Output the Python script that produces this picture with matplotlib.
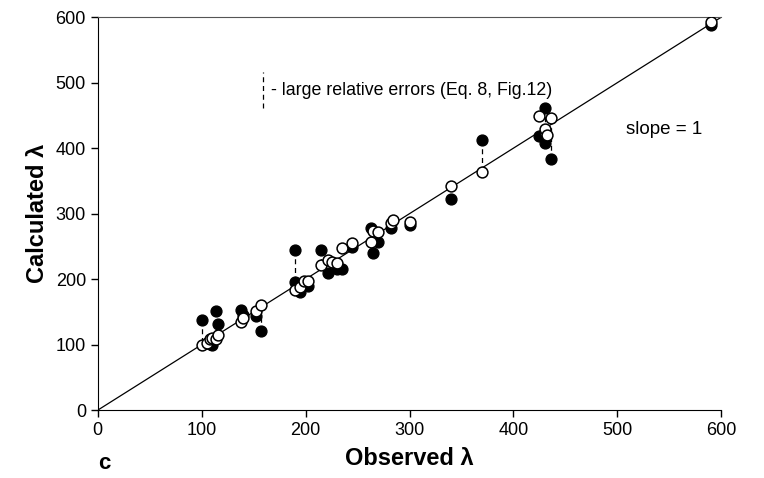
import matplotlib
matplotlib.use("Agg")
import matplotlib.pyplot as plt

plt.rcParams['font.family'] = ['Liberation Sans', 'DejaVu Sans']

# observed lambda and the two calculated values (filled / open)
observed = [100, 105, 108, 110, 114, 116, 138, 140, 152, 157,
            190, 190, 195, 198, 202, 215, 222, 225, 230, 235,
            245, 263, 265, 270, 282, 284, 300, 340, 370,
            425, 430, 430, 432, 436, 590]
calc_filled = [137, None, 101, 100, 152, 131, 153, 145, 143, 121,
               244, 196, 180, 192, 190, 244, 209, None, 215, 215,
               249, 278, 240, 257, 278, None, 282, 323, 413,
               418, 461, 408, None, 384, 588]
calc_open = [100, 102, 108, 110, 108, 115, 135, 140, 152, 160,
             183, None, 188, 197, 197, 222, 230, 226, 225, 247,
             255, 257, 274, 272, 285, 291, 288, 342, 364,
             449, 425, 430, 420, 446, 592]
# pairs with large relative errors (joined by dashed lines)
large_err = [0, 4, 5, 9, 10, 15, 28, 30, 33]

fig, ax = plt.subplots(figsize=(7.64, 4.78), dpi=100)
fig.subplots_adjust(left=0.128, right=0.944, bottom=0.142, top=0.964)

ax.plot([0, 600], [0, 600], color='black', lw=0.9, zorder=1)

for i in large_err:
    ax.plot([observed[i], observed[i]], [calc_filled[i], calc_open[i]],
            color='black', lw=0.9, ls=(0, (4, 3)), zorder=2)

fx = [o for o, v in zip(observed, calc_filled) if v is not None]
fy = [v for v in calc_filled if v is not None]
ox = [o for o, v in zip(observed, calc_open) if v is not None]
oy = [v for v in calc_open if v is not None]
ax.plot(fx, fy, 'o', color='black', ms=7.8, zorder=3)
ax.plot(ox, oy, 'o', mfc='white', mec='black', mew=1.1, ms=7.8, zorder=4)

ax.plot([159, 159], [461, 516], color='black', lw=0.9, ls=(0, (4, 3)))
ax.text(167, 488, '- large relative errors (Eq. 8, Fig.12)', fontsize=12.8,
        va='center', ha='left')
ax.text(508, 428, 'slope = 1', fontsize=13.5, va='center', ha='left')

ax.set_xlim(0, 600)
ax.set_ylim(0, 600)
ax.set_xticks(range(0, 601, 100))
ax.set_yticks(range(0, 601, 100))
ax.tick_params(labelsize=13, direction='out', length=5, width=1)
ax.spines['right'].set_visible(False)
ax.spines['top'].set_color('#555555')
ax.spines['top'].set_linewidth(0.8)

ax.set_xlabel('Observed λ', fontsize=17, fontweight='bold', labelpad=6)
ax.set_ylabel('Calculated λ', fontsize=17, fontweight='bold', labelpad=5)
fig.text(0.128, 0.018, 'c', fontsize=16, fontweight='bold', ha='left')

fig.savefig('out.png', dpi=100)
